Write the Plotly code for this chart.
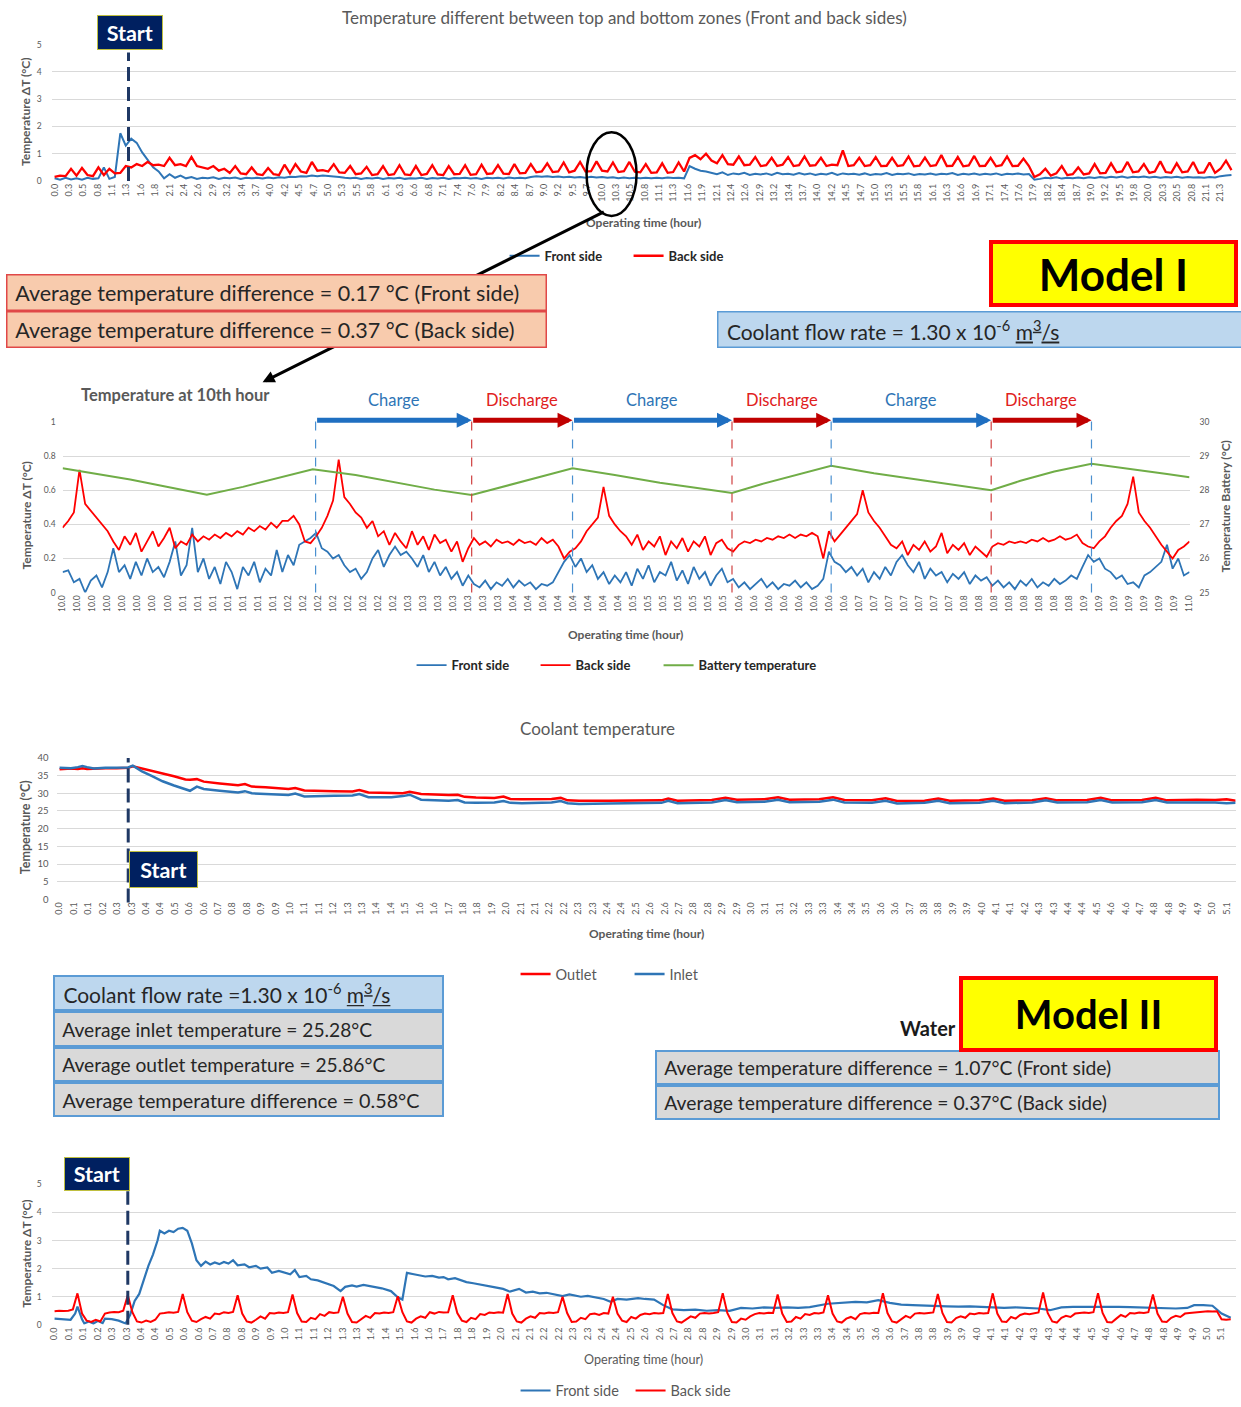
import plotly.graph_objects as go

W, H = 1241, 1407
# The photographed page comes out very slightly shrunk (about 0.8 %) and offset by
# about 5 px; layout positions are corrected so that marks land where intended.
AX, BX = 5.4, 0.992
AY, BY = 5.3, 0.993
FONT = "Lato, 'Open Sans', sans-serif"
BLUE = "#2E75B6"
RED = "#FF0000"
GREEN = "#70AD47"
GRAY = "#595959"


def lx(x):
    return (x - AX) / BX


def ly(y):
    return (y - AY) / BY


def px(x):
    return lx(x) / W


def py(y):
    return 1 - ly(y) / H


def dom_x(a, b):
    return [max(0.0, px(a)), min(1.0, px(b))]


def dom_y(bottom, top):
    return [max(0.0, py(bottom)), min(1.0, py(top))]


# ------------------------------------------------------------------ DATA
# Panel 1 : Model I, whole test (sampled every 0.1 h)
P1_DT = 0.1
P1_TICKS = ["0.0", "0.3", "0.5", "0.8", "1.1", "1.3", "1.6", "1.8", "2.1", "2.4",
            "2.6", "2.9", "3.2", "3.4", "3.7", "4.0", "4.2", "4.5", "4.7", "5.0",
            "5.3", "5.5", "5.8", "6.1", "6.3", "6.6", "6.8", "7.1", "7.4", "7.6",
            "7.9", "8.2", "8.4", "8.7", "9.0", "9.2", "9.5", "9.7", "10.0", "10.3",
            "10.5", "10.8", "11.1", "11.3", "11.6", "11.9", "12.1", "12.4", "12.6", "12.9",
            "13.2", "13.4", "13.7", "14.0", "14.2", "14.5", "14.7", "15.0", "15.3", "15.5",
            "15.8", "16.1", "16.3", "16.6", "16.9", "17.1", "17.4", "17.6", "17.9", "18.2",
            "18.4", "18.7", "19.0", "19.2", "19.5", "19.8", "20.0", "20.3", "20.5", "20.8",
            "21.1", "21.3"]
P1_TICK_END = 21.3
P1_FRONT = [
    0.10, 0.05, 0.12, 0.06, 0.10, 0.05, 0.12, 0.08, 0.10, 0.50,
    0.08, 0.15, 1.75, 1.30, 1.55, 1.40, 1.05, 0.75, 0.50, 0.35,
    0.10, 0.25, 0.12, 0.20, 0.10, 0.15, 0.08, 0.12, 0.10, 0.14,
    0.08, 0.12, 0.10, 0.13, 0.08, 0.12, 0.10, 0.12, 0.09, 0.13,
    0.10, 0.14, 0.12, 0.16, 0.15, 0.18, 0.17, 0.20, 0.18, 0.20,
    0.19, 0.17, 0.15, 0.12, 0.10, 0.12, 0.08, 0.11, 0.09, 0.12,
    0.08, 0.11, 0.09, 0.12, 0.08, 0.10, 0.09, 0.12, 0.08, 0.11,
    0.09, 0.12, 0.08, 0.11, 0.10, 0.12, 0.09, 0.11, 0.08, 0.12,
    0.10, 0.12, 0.09, 0.13, 0.10, 0.12, 0.10, 0.15, 0.18, 0.16,
    0.18, 0.15, 0.17, 0.14, 0.16, 0.13, 0.15, 0.12, 0.16, 0.13,
    0.15, 0.12, 0.14, 0.10, 0.13, 0.10, 0.12, 0.10, 0.12, 0.10,
    0.12, 0.10, 0.13, 0.11, 0.12, 0.10, 0.55, 0.45, 0.38, 0.35,
    0.30, 0.25, 0.32, 0.22, 0.28, 0.25, 0.30, 0.22, 0.27, 0.24,
    0.28, 0.22, 0.30, 0.25, 0.27, 0.23, 0.29, 0.24, 0.28, 0.22,
    0.27, 0.24, 0.30, 0.22, 0.28, 0.25, 0.27, 0.23, 0.28, 0.22,
    0.26, 0.24, 0.29, 0.22, 0.27, 0.25, 0.28, 0.22, 0.26, 0.24,
    0.28, 0.23, 0.27, 0.25, 0.29, 0.22, 0.27, 0.24, 0.28, 0.23,
    0.27, 0.24, 0.28, 0.22, 0.27, 0.25, 0.28, 0.24, 0.26, 0.05,
    0.08, 0.12, 0.10, 0.14, 0.09, 0.12, 0.10, 0.13, 0.10, 0.14,
    0.11, 0.15, 0.12, 0.16, 0.13, 0.17, 0.12, 0.16, 0.14, 0.17,
    0.13, 0.16, 0.12, 0.15, 0.13, 0.16, 0.12, 0.15, 0.13, 0.14,
    0.12, 0.15, 0.13, 0.18, 0.20, 0.22]
P1_BACK = [
    0.15, 0.20, 0.18, 0.45, 0.20, 0.48, 0.22, 0.18, 0.50, 0.22,
    0.45, 0.28, 0.30, 0.55, 0.50, 0.62, 0.55, 0.70, 0.58, 0.60,
    0.55, 0.85, 0.58, 0.62, 0.55, 0.88, 0.55, 0.50, 0.45, 0.55,
    0.38, 0.45, 0.30, 0.55, 0.28, 0.25, 0.50, 0.25, 0.22, 0.48,
    0.25, 0.22, 0.60, 0.28, 0.62, 0.35, 0.30, 0.70, 0.38, 0.40,
    0.35, 0.62, 0.32, 0.30, 0.55, 0.25, 0.28, 0.52, 0.22, 0.25,
    0.55, 0.22, 0.25, 0.58, 0.24, 0.22, 0.55, 0.22, 0.26, 0.58,
    0.24, 0.22, 0.55, 0.25, 0.26, 0.58, 0.23, 0.25, 0.60, 0.26,
    0.28, 0.58, 0.27, 0.26, 0.62, 0.28, 0.30, 0.62, 0.32, 0.35,
    0.65, 0.33, 0.35, 0.68, 0.32, 0.38, 0.70, 0.35, 0.36, 0.72,
    0.38, 0.35, 0.68, 0.33, 0.36, 0.70, 0.34, 0.32, 0.62, 0.30,
    0.32, 0.65, 0.30, 0.33, 0.68, 0.35, 0.85, 0.95, 0.80, 1.00,
    0.75, 0.65, 0.95, 0.62, 0.60, 0.90, 0.58, 0.60, 0.88, 0.55,
    0.58, 0.85, 0.55, 0.60, 0.88, 0.55, 0.58, 0.90, 0.56, 0.58,
    0.85, 0.55, 0.60, 0.58, 1.12, 0.55, 0.58, 0.85, 0.55, 0.58,
    0.88, 0.55, 0.56, 0.85, 0.55, 0.58, 0.90, 0.54, 0.56, 0.86,
    0.55, 0.58, 0.95, 0.55, 0.56, 0.88, 0.54, 0.57, 0.92, 0.55,
    0.56, 0.85, 0.54, 0.58, 0.90, 0.55, 0.56, 0.82, 0.55, 0.15,
    0.25, 0.45, 0.20, 0.28, 0.55, 0.22, 0.25, 0.50, 0.24, 0.28,
    0.62, 0.28, 0.30, 0.65, 0.32, 0.35, 0.70, 0.32, 0.35, 0.62,
    0.30, 0.35, 0.72, 0.33, 0.30, 0.65, 0.32, 0.35, 0.70, 0.30,
    0.32, 0.68, 0.30, 0.45, 0.75, 0.40]
P1_START = 1.35

# Panel 2 : zoom on the 10th hour (sampled every 0.005 h)
P2_T0 = 10.0
P2_DT = 0.005
P2_TICKS = [
    "10.0", "10.0", "10.0", "10.0", "10.0", "10.0", "10.0", "10.0",
    "10.1", "10.1", "10.1", "10.1", "10.1", "10.1", "10.1",
    "10.2", "10.2", "10.2", "10.2", "10.2", "10.2", "10.2", "10.2",
    "10.3", "10.3", "10.3", "10.3", "10.3", "10.3", "10.3",
    "10.4", "10.4", "10.4", "10.4", "10.4", "10.4", "10.4", "10.4",
    "10.5", "10.5", "10.5", "10.5", "10.5", "10.5", "10.5",
    "10.6", "10.6", "10.6", "10.6", "10.6", "10.6", "10.6", "10.6",
    "10.7", "10.7", "10.7", "10.7", "10.7", "10.7", "10.7",
    "10.8", "10.8", "10.8", "10.8", "10.8", "10.8", "10.8", "10.8",
    "10.9", "10.9", "10.9", "10.9", "10.9", "10.9", "10.9",
    "11.0"]
P2_FRONT = [
    0.12, 0.13, 0.06, 0.08, 0.00, 0.07, 0.10, 0.03, 0.12, 0.26,
    0.12, 0.16, 0.08, 0.18, 0.10, 0.20, 0.12, 0.15, 0.09, 0.18,
    0.30, 0.10, 0.16, 0.38, 0.12, 0.20, 0.08, 0.15, 0.05, 0.18,
    0.12, 0.02, 0.15, 0.10, 0.18, 0.06, 0.14, 0.10, 0.25, 0.12,
    0.22, 0.16, 0.28, 0.30, 0.32, 0.35, 0.26, 0.24, 0.20, 0.22,
    0.16, 0.12, 0.14, 0.08, 0.12, 0.20, 0.25, 0.15, 0.22, 0.27,
    0.22, 0.24, 0.20, 0.15, 0.22, 0.12, 0.18, 0.10, 0.15, 0.08,
    0.12, 0.04, 0.10, 0.05, 0.03, 0.07, 0.02, 0.06, 0.04, 0.08,
    0.03, 0.07, 0.04, 0.06, 0.02, 0.05, 0.04, 0.06, 0.12, 0.18,
    0.22, 0.15, 0.20, 0.12, 0.16, 0.08, 0.12, 0.05, 0.10, 0.06,
    0.12, 0.04, 0.14, 0.08, 0.16, 0.06, 0.12, 0.10, 0.18, 0.07,
    0.13, 0.05, 0.15, 0.08, 0.12, 0.04, 0.10, 0.14, 0.06, 0.08,
    0.03, 0.06, 0.02, 0.05, 0.08, 0.03, 0.06, 0.02, 0.05, 0.04,
    0.07, 0.03, 0.06, 0.02, 0.04, 0.08, 0.24, 0.18, 0.16, 0.12,
    0.15, 0.10, 0.14, 0.06, 0.12, 0.08, 0.15, 0.10, 0.18, 0.22,
    0.16, 0.12, 0.18, 0.08, 0.14, 0.10, 0.12, 0.06, 0.11, 0.08,
    0.12, 0.05, 0.10, 0.07, 0.09, 0.04, 0.07, 0.03, 0.06, 0.02,
    0.07, 0.04, 0.08, 0.03, 0.06, 0.04, 0.08, 0.05, 0.07, 0.10,
    0.08, 0.15, 0.22, 0.18, 0.20, 0.14, 0.12, 0.08, 0.10, 0.05,
    0.06, 0.03, 0.10, 0.12, 0.15, 0.18, 0.28, 0.14, 0.20, 0.10,
    0.12]
P2_BACK = [
    0.38, 0.42, 0.47, 0.72, 0.52, 0.48, 0.44, 0.40, 0.36, 0.30,
    0.25, 0.33, 0.28, 0.35, 0.24, 0.30, 0.36, 0.27, 0.32, 0.38,
    0.26, 0.30, 0.28, 0.34, 0.30, 0.33, 0.31, 0.34, 0.32, 0.35,
    0.33, 0.36, 0.34, 0.38, 0.36, 0.39, 0.37, 0.41, 0.38, 0.42,
    0.42, 0.45, 0.40, 0.30, 0.29, 0.33, 0.38, 0.45, 0.54, 0.78,
    0.56, 0.52, 0.47, 0.44, 0.38, 0.42, 0.33, 0.36, 0.28, 0.35,
    0.30, 0.26, 0.36, 0.28, 0.33, 0.25, 0.34, 0.29, 0.31, 0.24,
    0.30, 0.18, 0.26, 0.32, 0.28, 0.30, 0.27, 0.31, 0.29, 0.30,
    0.28, 0.31, 0.29, 0.30, 0.28, 0.32, 0.29, 0.31, 0.27, 0.20,
    0.24, 0.26, 0.30, 0.36, 0.40, 0.44, 0.62, 0.45, 0.40, 0.36,
    0.33, 0.28, 0.34, 0.25, 0.30, 0.27, 0.33, 0.22, 0.30, 0.26,
    0.32, 0.24, 0.30, 0.27, 0.33, 0.22, 0.29, 0.31, 0.26, 0.24,
    0.28, 0.30, 0.29, 0.31, 0.30, 0.32, 0.31, 0.33, 0.32, 0.34,
    0.32, 0.34, 0.33, 0.35, 0.33, 0.20, 0.36, 0.30, 0.34, 0.38,
    0.42, 0.46, 0.60, 0.47, 0.42, 0.38, 0.33, 0.28, 0.26, 0.30,
    0.22, 0.28, 0.25, 0.30, 0.24, 0.27, 0.35, 0.23, 0.28, 0.25,
    0.29, 0.22, 0.27, 0.24, 0.21, 0.27, 0.29, 0.28, 0.30, 0.29,
    0.30, 0.29, 0.31, 0.30, 0.32, 0.30, 0.31, 0.33, 0.31, 0.32,
    0.34, 0.29, 0.27, 0.26, 0.30, 0.33, 0.38, 0.42, 0.45, 0.52,
    0.68, 0.47, 0.42, 0.38, 0.33, 0.28, 0.24, 0.20, 0.25, 0.27,
    0.30]
P2_BATT_T = [10.0, 10.03, 10.06, 10.09, 10.128, 10.16, 10.19, 10.222, 10.26, 10.30,
             10.33, 10.363, 10.39, 10.42, 10.4525, 10.49, 10.53, 10.56, 10.594, 10.62,
             10.65, 10.682, 10.72, 10.76, 10.79, 10.824, 10.85, 10.88, 10.913, 10.95,
             10.98, 11.0]
P2_BATT = [28.65, 28.48, 28.32, 28.12, 27.87, 28.10, 28.35, 28.62, 28.45, 28.20,
           28.02, 27.86, 28.10, 28.38, 28.65, 28.45, 28.22, 28.08, 27.92, 28.18,
           28.45, 28.72, 28.50, 28.30, 28.15, 28.00, 28.28, 28.55, 28.78, 28.62,
           28.48, 28.38]
P2_PHASE_BOUNDS = [10.2245, 10.363, 10.4525, 10.594, 10.682, 10.824, 10.913]
P2_PHASES = ["Charge", "Discharge", "Charge", "Discharge", "Charge", "Discharge"]

# Panel 3 : coolant temperature
P3_TICKS = ["0.0", "0.1", "0.1", "0.2", "0.3", "0.3", "0.4", "0.4", "0.5", "0.6",
            "0.6", "0.7", "0.8", "0.8", "0.9", "0.9", "1.0", "1.1", "1.1", "1.2",
            "1.3", "1.3", "1.4", "1.4", "1.5", "1.6", "1.6", "1.7", "1.8", "1.8",
            "1.9", "2.0", "2.1", "2.1", "2.2", "2.2", "2.3", "2.3", "2.4", "2.4",
            "2.5", "2.6", "2.6", "2.7", "2.8", "2.8", "2.9", "2.9", "3.0", "3.1",
            "3.1", "3.2", "3.3", "3.3", "3.4", "3.4", "3.5", "3.6", "3.6", "3.7",
            "3.8", "3.8", "3.9", "3.9", "4.0", "4.1", "4.1", "4.2", "4.3", "4.3",
            "4.4", "4.4", "4.5", "4.6", "4.6", "4.7", "4.8", "4.8", "4.9", "4.9",
            "5.0", "5.1"]
P3_TICK_END = 5.1
P3_T = [0.00, 0.05, 0.08, 0.10, 0.12, 0.15, 0.20, 0.25, 0.30, 0.32,
        0.36, 0.40, 0.45, 0.50, 0.55, 0.57, 0.60, 0.63, 0.70, 0.78,
        0.81, 0.84, 0.90, 1.00, 1.03, 1.07, 1.20, 1.28, 1.31, 1.35,
        1.45, 1.50, 1.53, 1.58, 1.70, 1.74, 1.77, 1.82, 1.90, 1.94,
        1.97, 2.02, 2.15, 2.19, 2.22, 2.27, 2.40, 2.55, 2.63, 2.66,
        2.70, 2.85, 2.91, 2.96, 3.08, 3.14, 3.19, 3.32, 3.38, 3.43,
        3.55, 3.61, 3.66, 3.78, 3.84, 3.89, 4.02, 4.08, 4.13, 4.25,
        4.31, 4.36, 4.49, 4.55, 4.60, 4.73, 4.79, 4.84, 4.97, 5.05,
        5.10, 5.14]
P3_OUTLET = [36.8, 37.0, 36.9, 37.1, 36.9, 37.0, 37.1, 37.1, 37.2, 37.6,
             37.0, 36.4, 35.6, 34.8, 33.9, 33.8, 34.0, 33.3, 32.8, 32.3,
             32.6, 31.9, 31.7, 31.2, 31.5, 30.8, 30.6, 30.5, 30.9, 30.2,
             30.1, 30.0, 30.4, 29.8, 29.5, 29.6, 29.0, 28.8, 28.7, 29.1,
             28.4, 28.3, 28.4, 28.7, 28.0, 27.9, 27.9, 28.0, 28.0, 28.5,
             27.9, 28.1, 28.7, 28.2, 28.3, 28.9, 28.2, 28.3, 28.9, 28.1,
             28.0, 28.6, 27.8, 27.9, 28.5, 27.9, 28.0, 28.5, 27.9, 28.0,
             28.6, 28.0, 28.1, 28.7, 28.0, 28.1, 28.7, 28.0, 28.2, 28.1,
             28.3, 27.9]
P3_INLET = [37.2, 37.1, 37.4, 37.7, 37.4, 37.0, 37.2, 37.3, 37.3, 37.8,
            36.2, 35.0, 33.4, 32.2, 31.2, 30.7, 31.9, 31.2, 30.7, 30.2,
            30.6, 30.0, 29.8, 29.5, 29.9, 29.1, 29.3, 29.4, 29.8, 28.9,
            28.9, 29.2, 29.6, 28.2, 27.9, 28.1, 27.4, 27.3, 27.4, 27.8,
            27.3, 27.2, 27.4, 27.8, 27.2, 27.0, 27.1, 27.2, 27.3, 27.9,
            27.2, 27.4, 28.1, 27.5, 27.6, 28.2, 27.5, 27.6, 28.2, 27.4,
            27.3, 27.9, 27.1, 27.3, 27.9, 27.2, 27.3, 27.9, 27.2, 27.4,
            28.0, 27.4, 27.5, 28.1, 27.4, 27.5, 28.1, 27.4, 27.5, 27.4,
            27.2, 27.3]
P3_START = 0.30

# Panel 4 : Model II front / back
P4_TICKS = P3_TICKS
P4_TICK_END = 5.1
P4_FRONT_T = [0.00, 0.04, 0.07, 0.09, 0.10, 0.12, 0.13, 0.15, 0.17, 0.19,
              0.21, 0.22, 0.25, 0.28, 0.30, 0.31, 0.33, 0.35, 0.37, 0.39,
              0.41, 0.43, 0.45, 0.46, 0.48, 0.50, 0.52, 0.54, 0.56, 0.58,
              0.60, 0.62, 0.64, 0.66, 0.68, 0.70, 0.72, 0.74, 0.76, 0.78,
              0.80, 0.83, 0.85, 0.88, 0.90, 0.93, 0.95, 0.98, 1.00, 1.03,
              1.05, 1.07, 1.10, 1.12, 1.15, 1.18, 1.20, 1.22, 1.25, 1.27,
              1.30, 1.32, 1.35, 1.38, 1.40, 1.43, 1.47, 1.50, 1.52, 1.54,
              1.57, 1.60, 1.62, 1.65, 1.68, 1.70, 1.72, 1.75, 1.78, 1.80,
              1.83, 1.86, 1.89, 1.92, 1.96, 1.99, 2.03, 2.06, 2.09, 2.12,
              2.15, 2.18, 2.22, 2.25, 2.28, 2.30, 2.33, 2.36, 2.40, 2.43,
              2.46, 2.50, 2.55, 2.58, 2.62, 2.66, 2.70, 2.75, 2.80, 2.85,
              2.90, 2.95, 3.00, 3.05, 3.10, 3.15, 3.20, 3.25, 3.30, 3.38,
              3.45, 3.50, 3.55, 3.60, 3.65, 3.70, 3.75, 3.80, 3.85, 3.90,
              3.95, 4.00, 4.05, 4.10, 4.15, 4.20, 4.25, 4.30, 4.35, 4.40,
              4.45, 4.50, 4.55, 4.60, 4.65, 4.70, 4.75, 4.80, 4.85, 4.90,
              4.95, 4.98, 5.02, 5.06, 5.10, 5.14]
P4_FRONT = [0.22, 0.20, 0.18, 0.40, 0.65, 0.20, 0.05, 0.12, 0.05, 0.14,
            0.06, 0.22, 0.20, 0.15, 0.08, 0.05, 0.35, 0.85, 1.10, 1.60,
            2.10, 2.50, 3.00, 3.35, 3.25, 3.35, 3.30, 3.42, 3.45, 3.35,
            2.90, 2.30, 2.10, 2.25, 2.15, 2.22, 2.16, 2.24, 2.18, 2.30,
            2.12, 2.15, 2.05, 2.10, 2.00, 2.04, 1.85, 1.92, 1.88, 1.80,
            1.95, 1.70, 1.74, 1.62, 1.58, 1.50, 1.42, 1.38, 1.20, 1.35,
            1.40, 1.36, 1.42, 1.38, 1.34, 1.30, 1.20, 0.98, 0.90, 1.85,
            1.80, 1.76, 1.72, 1.74, 1.68, 1.70, 1.62, 1.66, 1.56, 1.52,
            1.48, 1.44, 1.40, 1.34, 1.28, 1.18, 1.28, 1.15, 1.18, 1.12,
            1.14, 1.10, 1.02, 1.08, 1.02, 1.00, 1.03, 0.98, 0.92, 0.82,
            0.92, 0.90, 0.95, 0.92, 0.90, 0.70, 0.55, 0.52, 0.54, 0.50,
            0.52, 0.50, 0.60, 0.58, 0.62, 0.60, 0.62, 0.60, 0.63, 0.75,
            0.80, 0.82, 0.80, 0.88, 0.78, 0.72, 0.70, 0.68, 0.68, 0.66,
            0.65, 0.66, 0.64, 0.62, 0.60, 0.62, 0.60, 0.58, 0.52, 0.62,
            0.64, 0.64, 0.66, 0.65, 0.64, 0.63, 0.62, 0.60, 0.60, 0.58,
            0.60, 0.70, 0.70, 0.68, 0.40, 0.25]
P4_DT = 0.02
P4_BACK = (
    [0.48, 0.50, 0.49, 0.50, 0.55, 1.12]
    + [0.40, 0.15, 0.10, 0.18, 0.12, 0.40, 0.44, 0.46, 0.45, 0.50, 1.05]
    + [0.45, 0.12, 0.08, 0.15, 0.10, 0.18, 0.40, 0.42, 0.45, 0.43, 0.46, 1.10]
    + [0.45, 0.15, 0.10, 0.20, 0.28, 0.22, 0.40, 0.38, 0.45, 0.42, 0.46, 1.05]
    + [0.40, 0.12, 0.08, 0.18, 0.30, 0.22, 0.42, 0.40, 0.44, 0.42, 0.45, 1.08]
    + [0.42, 0.12, 0.10, 0.25, 0.20, 0.38, 0.32, 0.45, 0.42, 0.44, 1.00]
    + [0.40, 0.10, 0.08, 0.20, 0.32, 0.25, 0.42, 0.40, 0.44, 0.42, 0.45, 1.02]
    + [0.45, 0.12, 0.08, 0.22, 0.30, 0.25, 0.45, 0.40, 0.46, 0.44, 0.45, 1.05]
    + [0.42, 0.15, 0.10, 0.25, 0.20, 0.38, 0.35, 0.44, 0.42, 0.45, 0.43, 1.10]
    + [0.40, 0.12, 0.08, 0.22, 0.30, 0.25, 0.42, 0.40, 0.44, 0.42, 0.45, 1.00]
    + [0.42, 0.10, 0.12, 0.25, 0.20, 0.38, 0.40, 0.35, 0.42, 0.40, 1.00]
    + [0.40, 0.15, 0.10, 0.28, 0.22, 0.35, 0.40, 0.38, 0.42, 0.40, 0.42, 1.10]
    + [0.42, 0.12, 0.08, 0.18, 0.30, 0.25, 0.40, 0.42, 0.40, 0.42, 0.45, 1.12]
    + [0.42, 0.10, 0.08, 0.22, 0.18, 0.30, 0.38, 0.42, 0.40, 0.43, 0.42, 1.08]
    + [0.40, 0.10, 0.12, 0.28, 0.22, 0.38, 0.35, 0.42, 0.40, 0.44, 1.05]
    + [0.40, 0.12, 0.08, 0.22, 0.28, 0.20, 0.38, 0.42, 0.40, 0.43, 0.42, 1.12]
    + [0.42, 0.12, 0.08, 0.20, 0.32, 0.25, 0.40, 0.42, 0.40, 0.42, 0.44, 1.10]
    + [0.42, 0.10, 0.08, 0.24, 0.30, 0.25, 0.40, 0.38, 0.42, 0.40, 0.42, 1.12]
    + [0.40, 0.12, 0.10, 0.28, 0.22, 0.35, 0.40, 0.38, 0.42, 0.44, 1.15]
    + [0.42, 0.12, 0.08, 0.25, 0.32, 0.28, 0.40, 0.42, 0.44, 0.42, 0.45, 1.12]
    + [0.42, 0.10, 0.08, 0.22, 0.35, 0.28, 0.42, 0.40, 0.44, 0.42, 0.45, 1.08]
    + [0.40, 0.12, 0.10, 0.25, 0.32, 0.28, 0.40, 0.42, 0.44, 0.45, 0.46, 0.48,
       0.47, 0.48, 0.20, 0.18, 0.20]
)
P4_START = 0.32

# ------------------------------------------------------------------ FIGURE
p1_t = [round(i * P1_DT, 4) for i in range(len(P1_FRONT))]
p2_t = [round(P2_T0 + i * P2_DT, 4) for i in range(len(P2_FRONT))]
p4_t = [round(i * P4_DT, 4) for i in range(len(P4_BACK))]

fig = go.Figure()
fig.add_trace(go.Scatter(x=p1_t, y=P1_FRONT, mode="lines", name="Front side",
                         line=dict(color=BLUE, width=2), xaxis="x", yaxis="y", legend="legend"))
fig.add_trace(go.Scatter(x=p1_t, y=P1_BACK, mode="lines", name="Back side",
                         line=dict(color=RED, width=2.3), xaxis="x", yaxis="y", legend="legend"))

fig.add_trace(go.Scatter(x=p2_t, y=P2_FRONT, mode="lines", name="Front side",
                         line=dict(color=BLUE, width=1.8), xaxis="x2", yaxis="y2", legend="legend2"))
fig.add_trace(go.Scatter(x=p2_t, y=P2_BACK, mode="lines", name="Back side",
                         line=dict(color=RED, width=1.8), xaxis="x2", yaxis="y2", legend="legend2"))
fig.add_trace(go.Scatter(x=P2_BATT_T, y=P2_BATT, mode="lines", name="Battery temperature",
                         line=dict(color=GREEN, width=2), xaxis="x2", yaxis="y3", legend="legend5"))

fig.add_trace(go.Scatter(x=P3_T, y=P3_OUTLET, mode="lines", name="Outlet",
                         line=dict(color=RED, width=2.5), xaxis="x3", yaxis="y4", legend="legend3"))
fig.add_trace(go.Scatter(x=P3_T, y=P3_INLET, mode="lines", name="Inlet",
                         line=dict(color=BLUE, width=2.5), xaxis="x3", yaxis="y4", legend="legend3"))

fig.add_trace(go.Scatter(x=P4_FRONT_T, y=P4_FRONT, mode="lines", name="Front side",
                         line=dict(color=BLUE, width=2.2), xaxis="x4", yaxis="y5", legend="legend4"))
fig.add_trace(go.Scatter(x=p4_t, y=P4_BACK, mode="lines", name="Back side",
                         line=dict(color=RED, width=2), xaxis="x4", yaxis="y5", legend="legend4"))


def xax(dom, rng, anchor, labels, end, start=0.0, size=9):
    n = len(labels)
    vals = [start + i * (end - start) / (n - 1) for i in range(n)]
    return dict(domain=dom, range=rng, anchor=anchor, tickmode="array", tickvals=vals,
                ticktext=labels, tickangle=-90,
                tickfont=dict(family=FONT, size=size, color=GRAY), showgrid=False,
                zeroline=False, showline=False, ticks="", fixedrange=True)


def yax(dom, rng, anchor, vals, texts=None, size=8.5, standoff=8):
    return dict(domain=dom, range=rng, anchor=anchor, tickmode="array", tickvals=vals,
                ticktext=texts if texts else [str(v) for v in vals],
                tickfont=dict(family=FONT, size=size, color=GRAY), showgrid=True,
                gridcolor="#D9D9D9", gridwidth=1, zeroline=False, showline=False,
                ticks="", fixedrange=True, ticklabelstandoff=standoff)


fig.update_layout(
    xaxis=xax(dom_x(52, 1236), [-0.055, 21.574], "y", P1_TICKS, P1_TICK_END),
    yaxis=yax(dom_y(181, 44), [0, 5], "x", [0, 1, 2, 3, 4, 5], standoff=9),
    xaxis2=xax(dom_x(63, 1190), [10.0, 11.0], "y2", P2_TICKS, 11.0, 10.0, size=8.5),
    yaxis2=yax(dom_y(594, 423), [0, 1], "x2", [0, 0.2, 0.4, 0.6, 0.8, 1.0],
               ["0", "0.2", "0.4", "0.6", "0.8", "1"], standoff=6),
    yaxis3=dict(overlaying="y2", side="right", anchor="x2", range=[25, 30],
                tickmode="array", tickvals=[25, 26, 27, 28, 29, 30], showgrid=False,
                zeroline=False, showline=False, ticks="", ticklabelstandoff=9,
                tickfont=dict(family=FONT, size=8.5, color=GRAY)),
    xaxis3=xax(dom_x(57, 1236), [-0.013, 5.139], "y4", P3_TICKS, P3_TICK_END),
    yaxis4=yax(dom_y(902, 760), [0, 40], "x3", [0, 5, 10, 15, 20, 25, 30, 35, 40],
               size=9.5, standoff=7),
    xaxis4=xax(dom_x(52, 1236), [-0.013, 5.161], "y5", P4_TICKS, P4_TICK_END),
    yaxis5=yax(dom_y(1329, 1188), [0, 5], "x4", [0, 1, 2, 3, 4, 5], standoff=9),
)

leg_bold = dict(family=FONT, size=13, color="#262626", weight="bold")
leg_reg = dict(family=FONT, size=14.5, color=GRAY)
common = dict(orientation="h", xanchor="left", yanchor="middle",
              bgcolor="rgba(0,0,0,0)", itemwidth=30)
fig.update_layout(
    legend=dict(common, x=px(505), y=py(256), font=leg_bold, entrywidth=79),
    legend2=dict(common, x=px(412), y=py(667), font=leg_bold, entrywidth=79),
    legend5=dict(common, x=px(659), y=py(667), font=leg_bold),
    legend3=dict(common, x=px(516), y=py(977), font=leg_reg, entrywidth=69),
    legend4=dict(common, x=px(516), y=py(1395), font=leg_reg, entrywidth=70),
)

ann = []


def text_ann(x, y, text, size, color=GRAY, angle=0, xanchor="center"):
    ann.append(dict(xref="paper", yref="paper", x=px(x), y=py(y), text=text, showarrow=False,
                    xanchor=xanchor, yanchor="middle", textangle=angle,
                    font=dict(family=FONT, size=size, color=color)))


def box_ann(x0, y0, x1, y1, text, fill, border, bw, size, align="left", pad=3,
            color="#262626"):
    bf = bw + pad
    ann.append(dict(xref="paper", yref="paper", x=px(x0), y=py(y0), xanchor="left",
                    yanchor="top", width=max(1, lx(x1) - lx(x0) - 2 * bf),
                    height=max(1, ly(y1) - ly(y0) - 2 * bf), text=text, showarrow=False,
                    align=align, valign="middle", bgcolor=fill, bordercolor=border,
                    borderwidth=bw, borderpad=pad,
                    font=dict(family=FONT, size=size, color=color)))


# titles and axis titles
text_ann(625, 17, "Temperature different between top and bottom zones (Front and back sides)", 17)
text_ann(26, 112, "<b>Temperature ΔT (°C)</b>", 12, angle=-90)
text_ann(644, 223, "<b>Operating time (hour)</b>", 12)
text_ann(176, 396, "<b>Temperature at 10th hour</b>", 16.5)
text_ann(27, 517, "<b>Temperature ΔT (°C)</b>", 12, angle=-90)
text_ann(1226, 508, "<b>Temperature Battery (°C)</b>", 12, angle=-90)
text_ann(626, 636, "<b>Operating time (hour)</b>", 12)
text_ann(598, 730, "Coolant temperature", 17)
text_ann(26, 830, "<b>Temperature (°C)</b>", 12.5, angle=-90)
text_ann(647, 936, "<b>Operating time (hour)</b>", 12)
text_ann(26, 1258, "<b>Temperature ΔT (°C)</b>", 12, angle=-90)
text_ann(644, 1364, "Operating time (hour)", 12.6)

# arrow from the circled region to the 10th-hour zoom
ann.append(dict(xref="paper", yref="paper", x=px(263), y=py(383),
                ax=(603 - 263) / BX, ay=-(383 - 213) / BY,
                axref="pixel", ayref="pixel", text="", showarrow=True, arrowhead=2,
                arrowsize=0.8, arrowwidth=3, arrowcolor="black"))

NB = "\u00a0"
box_ann(6, 274, 543, 311, NB + "Average temperature difference = 0.17 °C (Front side)",
        "#F8CBAD", "#E04848", 1.5, 21.5)
box_ann(6, 311, 543, 348, NB + "Average temperature difference = 0.37 °C (Back side)",
        "#F8CBAD", "#E04848", 1.5, 21.5)
box_ann(989, 240, 1236, 307, "<b>Model I</b>", "#FFFF00", "#FF0000", 4, 44,
        align="center", pad=0, color="black")
box_ann(717, 311, 1245, 348,
        NB + "Coolant flow rate = 1.30 x 10<sup>-6</sup> <u>m<sup>3</sup>/s</u>",
        "#BDD7EE", "#5B9BD5", 1.5, 21)

# Start markers
for (sx0, sy0, sx1, sy1) in [(97, 14, 162, 49), (129, 853, 197, 890), (64, 1161, 129, 1195)]:
    box_ann(sx0, sy0, sx1, sy1, "<b>Start</b>", "#002060", "#BFBF3F", 1, 21.5,
            align="center", pad=0, color="white")

# charge / discharge arrows and labels
for i, name in enumerate(P2_PHASES):
    col = "#1F6FC1" if name == "Charge" else "#C00000"
    tcol = BLUE if name == "Charge" else "#E02020"
    ann.append(dict(xref="x2", yref="paper", x=P2_PHASE_BOUNDS[i + 1], y=py(421),
                    axref="x2", ayref="pixel", ax=P2_PHASE_BOUNDS[i], ay=0,
                    text="", showarrow=True, arrowhead=2, arrowsize=0.6, arrowwidth=5,
                    arrowcolor=col))
    ann.append(dict(xref="x2", yref="paper",
                    x=(P2_PHASE_BOUNDS[i] + P2_PHASE_BOUNDS[i + 1]) / 2, y=py(401),
                    text=name, showarrow=False, yanchor="middle",
                    font=dict(family=FONT, size=16.5, color=tcol)))

# Model II related boxes
box_ann(53, 978, 441, 1014,
        NB + "Coolant flow rate =1.30 x 10<sup>-6</sup> <u>m<sup>3</sup>/s</u>",
        "#BDD7EE", "#5B9BD5", 2, 21)
box_ann(53, 1014, 441, 1050, NB + "Average inlet temperature = 25.28°C",
        "#D9D9D9", "#5B9BD5", 2, 19.2)
box_ann(53, 1050, 441, 1085, NB + "Average outlet temperature = 25.86°C",
        "#D9D9D9", "#5B9BD5", 2, 19.2)
box_ann(53, 1085, 441, 1120, NB + "Average temperature difference = 0.58°C",
        "#D9D9D9", "#5B9BD5", 2, 19.8)
text_ann(958, 1031, "<b>Water</b>", 20, color="#1a1a1a", xanchor="right")
box_ann(655, 1053, 1215, 1088, NB + "Average temperature difference = 1.07°C (Front side)",
        "#D9D9D9", "#5B9BD5", 2, 19.3)
box_ann(655, 1088, 1215, 1123, NB + "Average temperature difference = 0.37°C (Back side)",
        "#D9D9D9", "#5B9BD5", 2, 19.3)
box_ann(959, 979, 1216, 1054, "<b>Model II</b>", "#FFFF00", "#FF0000", 4, 40,
        align="center", pad=0, color="black")

fig.update_layout(annotations=ann)

shapes = []
# circled region in panel 1
shapes.append(dict(type="circle", xref="paper", yref="paper", x0=px(587), x1=px(637),
                   y0=py(216), y1=py(132), line=dict(color="black", width=2.5)))
# Start lines
dash_line = dict(color="#1F3864", width=3, dash="14px,6px")
shapes.append(dict(type="line", xref="x", yref="paper", x0=P1_START, x1=P1_START,
                   y0=py(181), y1=py(52), line=dash_line))
shapes.append(dict(type="line", xref="x3", yref="paper", x0=P3_START, x1=P3_START,
                   y0=py(905), y1=py(760), line=dash_line))
shapes.append(dict(type="line", xref="x4", yref="paper", x0=P4_START, x1=P4_START,
                   y0=py(1329), y1=py(1195), line=dash_line))
# charge / discharge boundaries
for i, b in enumerate(P2_PHASE_BOUNDS):
    col = "#4A90D0" if i % 2 == 0 else "#D04040"
    shapes.append(dict(type="line", xref="x2", yref="paper", x0=b, x1=b, y0=py(594),
                       y1=py(414), line=dict(color=col, width=1.2, dash="dash")))
fig.update_layout(shapes=shapes)

fig.update_layout(width=W, height=H, margin=dict(l=0, r=0, t=0, b=0),
                  paper_bgcolor="white", plot_bgcolor="white", showlegend=True,
                  font=dict(family=FONT, color=GRAY))

fig.write_html("out.html", config={"displayModeBar": False},
               post_script="document.body.style.margin='0';")
